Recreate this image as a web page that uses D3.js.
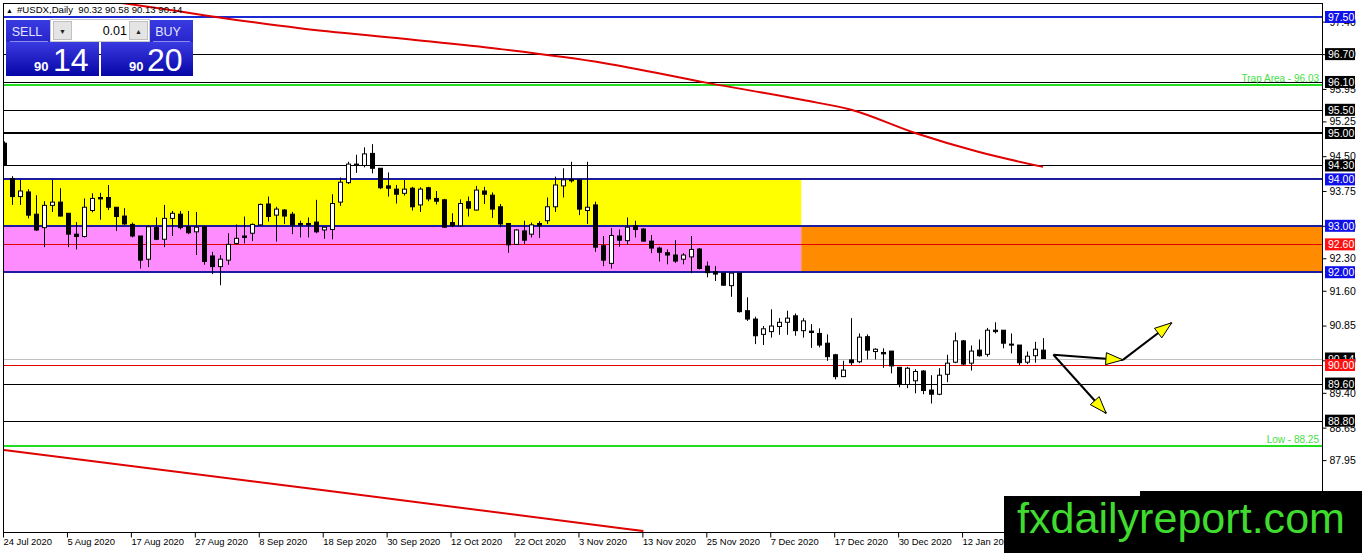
<!DOCTYPE html>
<html>
<head>
<meta charset="utf-8">
<script src="https://cdn.jsdelivr.net/npm/d3@7"></script>
<style>
body { margin: 0; background: #fff; }
svg { display: block; font-family: "Liberation Sans", Arial, sans-serif; }
</style>
</head>
<body>
<div id="chart"></div>
<script>
// ---- data ----
const symbolTitle = '#USDX,Daily  90.32 90.58 90.13 90.14';
const sellQuote = ['90', '14'];
const buyQuote = ['90', '20'];
const lotSize = '0.01';

// date label every 8 bars, first bar = 24 Jul 2020
const dateLabels = ['24 Jul 2020','5 Aug 2020','17 Aug 2020','27 Aug 2020','8 Sep 2020','18 Sep 2020',
    '30 Sep 2020','12 Oct 2020','22 Oct 2020','3 Nov 2020','13 Nov 2020','25 Nov 2020','7 Dec 2020',
    '17 Dec 2020','30 Dec 2020','12 Jan 2021'];

const opens = [94.78,94.02,93.63,93.73,93.25,92.96,93.44,93.51,93.27,92.82,
    92.77,93.33,93.61,93.61,93.40,93.21,93.03,92.78,92.28,92.96,
    92.71,93.16,93.25,92.98,92.87,92.98,92.35,92.12,92.26,92.62,
    92.78,92.84,93.02,93.47,93.23,93.34,93.25,93.05,93.05,93.08,
    92.91,92.92,93.51,93.93,94.33,94.30,94.56,94.24,93.86,93.79,
    93.70,93.81,93.45,93.82,93.59,93.56,93.07,93.00,93.52,93.34,
    93.75,93.66,93.41,93.05,92.60,92.89,92.82,93.05,93.11,93.41,
    93.86,94.00,93.99,93.33,93.45,92.57,92.19,92.78,92.68,93.00,
    92.93,92.67,92.52,92.42,92.37,92.28,92.33,92.50,92.13,92.01,
    91.98,91.71,91.98,91.17,90.99,90.66,90.72,90.83,90.92,91.06,
    90.74,90.73,90.68,90.47,90.22,89.75,90.11,90.07,90.61,90.29,
    90.27,90.30,89.95,89.58,89.66,89.87,89.46,89.37,89.80,90.06,
    90.52,90.04,90.32,90.23,90.75,90.75,90.45,90.43,90.06,90.20,
    90.32];
const highs = [94.82,94.07,94.00,93.79,93.66,93.53,94.00,93.81,93.27,93.08,
    93.59,93.70,93.71,93.88,93.40,93.38,93.07,92.78,93.00,93.18,
    93.45,93.32,93.32,93.32,93.30,93.00,92.44,92.37,92.84,93.03,
    93.20,93.05,93.48,93.63,93.41,93.36,93.30,93.11,93.18,93.56,
    92.98,93.68,94.04,94.38,94.53,94.69,94.76,94.24,94.15,93.88,
    93.99,93.84,93.83,93.84,93.75,93.58,93.27,93.57,93.63,93.86,
    93.84,93.72,93.47,93.05,92.93,93.11,93.07,93.10,93.61,94.06,
    94.24,94.38,94.00,94.38,93.52,92.78,92.95,92.92,93.18,93.11,
    92.95,92.80,92.55,92.49,92.69,92.41,92.78,92.52,92.23,92.13,
    91.98,91.98,91.98,91.46,91.04,90.84,91.20,91.01,91.17,91.11,
    91.01,90.88,90.79,90.66,90.24,90.09,91.01,90.68,90.66,90.36,
    90.36,90.30,89.95,89.96,89.91,89.89,89.78,89.93,90.22,90.70,
    90.54,90.42,90.55,90.80,90.92,90.75,90.68,90.43,90.29,90.50,
    90.58];
const lows = [94.30,93.45,93.45,93.16,92.89,92.54,93.30,93.20,92.54,92.49,
    92.75,93.29,93.13,93.34,92.89,93.02,92.75,92.08,92.11,92.69,
    92.54,92.78,92.92,92.82,92.37,92.16,91.96,91.72,92.16,92.59,
    92.62,92.67,93.00,93.09,92.66,93.04,92.82,92.75,92.75,92.84,
    92.72,92.71,93.43,93.90,94.14,94.26,94.13,93.79,93.63,93.48,
    93.65,93.33,93.30,93.53,93.46,92.96,92.97,92.98,93.20,93.33,
    93.47,93.17,92.97,92.42,92.59,92.61,92.75,92.74,93.04,93.30,
    93.61,93.93,93.23,93.04,92.44,92.13,92.08,92.55,92.59,92.75,
    92.66,92.41,92.23,92.17,92.20,92.17,91.98,92.06,91.89,91.81,
    91.71,91.47,91.13,90.95,90.45,90.43,90.59,90.65,90.65,90.63,
    90.59,90.37,90.38,90.09,89.69,89.74,90.00,90.04,90.12,90.12,
    89.94,89.82,89.52,89.50,89.39,89.37,89.17,89.35,89.63,90.04,
    90.00,89.88,90.18,90.18,90.68,90.36,90.25,90.00,90.02,90.05,
    90.13];
const closes = [94.31,93.63,93.75,93.23,92.91,93.44,93.51,93.21,92.82,92.77,
    93.40,93.59,93.58,93.40,93.20,93.04,92.78,92.26,92.98,92.71,
    93.16,93.27,92.96,92.85,92.97,92.23,92.12,92.28,92.60,92.73,
    92.75,93.03,93.46,93.20,93.36,93.21,93.02,93.02,93.02,92.87,
    92.97,93.48,93.94,94.33,94.30,94.55,94.24,93.82,93.81,93.68,
    93.79,93.41,93.79,93.58,93.53,92.97,93.00,93.48,93.38,93.77,
    93.68,93.36,93.04,92.59,92.91,92.69,93.02,93.00,93.41,93.88,
    93.99,93.97,93.36,93.40,92.54,92.26,92.79,92.69,92.97,92.92,
    92.67,92.52,92.43,92.37,92.24,92.37,92.49,92.08,91.99,91.96,
    91.72,91.98,91.15,90.99,90.63,90.78,90.84,90.92,91.01,90.74,
    90.95,90.70,90.43,90.18,89.75,89.89,90.05,90.60,90.32,90.34,
    90.24,89.98,89.58,89.93,89.86,89.45,89.37,89.78,90.04,90.52,
    90.02,90.30,90.20,90.75,90.72,90.47,90.43,90.05,90.19,90.34,
    90.14];

// moving averages (read at a few bars)
const maSlowBars = [14, 20, 25, 37, 50, 62, 75, 88, 100, 106, 114, 122, 130];
const maSlowVals = [97.82, 97.67, 97.54, 97.26, 97.03, 96.81, 96.51, 96.08, 95.71, 95.50, 95.00, 94.59, 94.27];
const maLowBars = [0, 40, 80];
const maLowVals = [88.17, 87.30, 86.42];

// horizontal levels
const blueLevels = [97.50, 94.00, 93.00, 92.00];
const blackLevels = [96.70, 96.10, 95.50, 94.30, 89.60, 88.80];
const heavyLevels = [95.00];
const redLevels = [92.60, 90.00];
const currentPrice = 90.14;
const greenLevels = [96.03, 88.25];
const greenTexts = ['Trap Area - 96.03', 'Low - 88.25'];
const axisTicks = [97.40, 96.70, 95.95, 95.25, 94.50, 93.75, 93.00, 92.30, 91.60, 90.85, 90.10, 89.40, 88.65, 87.95];

// zones: [top, bottom] prices, split at bar
const supplyZone = [94.00, 93.00];
const demandZone = [93.00, 92.00];
const zoneSplitBar = 99.75;

// scenario arrows [bar, price] -> [bar, price]
const arrows = [
    [[131.3, 90.22], [140.0, 90.11]],
    [[140.0, 90.11], [146.1, 90.91]],
    [[131.3, 90.22], [137.9, 88.96]]
];

// ---- layout ----
const W = 1362, H = 553;
const plot = {left: 3, top: 3, right: 1322, bottom: 532};

const svg = d3.select('#chart').append('svg')
    .attr('width', W).attr('height', H);

const x = d3.scaleLinear().domain([0, closes.length - 1]).range([4, 1043]);
const y = d3.scaleLinear().domain([88.25, 97.5]).range([446.2, 17]);

svg.append('defs').append('clipPath').attr('id', 'plotClip')
    .append('rect')
    .attr('x', plot.left).attr('y', plot.top)
    .attr('width', plot.right - plot.left).attr('height', plot.bottom - plot.top);

const g = svg.append('g').attr('clip-path', 'url(#plotClip)');

// zones
g.append('rect').attr('x', plot.left).attr('y', y(supplyZone[0]))
    .attr('width', x(zoneSplitBar) - plot.left).attr('height', y(supplyZone[1]) - y(supplyZone[0]))
    .attr('fill', '#ffff00');
g.append('rect').attr('x', plot.left).attr('y', y(demandZone[0]))
    .attr('width', x(zoneSplitBar) - plot.left).attr('height', y(demandZone[1]) - y(demandZone[0]))
    .attr('fill', '#ff8cff');
g.append('rect').attr('x', x(zoneSplitBar)).attr('y', y(demandZone[0]))
    .attr('width', plot.right - x(zoneSplitBar)).attr('height', y(demandZone[1]) - y(demandZone[0]))
    .attr('fill', '#ff8c00');

function hline(price, color, width) {
    let yy = Math.round(y(price)) + (width % 2 ? 0.5 : 0);
    g.append('line')
        .attr('x1', plot.left).attr('x2', plot.right)
        .attr('y1', yy).attr('y2', yy)
        .attr('stroke', color).attr('stroke-width', width);
}
hline(currentPrice, '#c0c0c0', 1);
blackLevels.forEach(p => hline(p, '#000', 1));
heavyLevels.forEach(p => hline(p, '#000', 2));
redLevels.forEach(p => hline(p, '#e00000', 1));
greenLevels.forEach(p => hline(p, '#22dd22', 2));
blueLevels.forEach(p => hline(p, p === 97.5 ? '#1a2ad0' : '#1c1ca0', 2));

// green level captions
greenLevels.forEach((p, i) => {
    g.append('text')
        .attr('x', plot.right - 3).attr('y', y(p) - 3)
        .attr('text-anchor', 'end')
        .attr('font-size', 10)
        .attr('fill', '#44e044')
        .text(greenTexts[i]);
});

// moving averages
const maLine = d3.line().curve(d3.curveMonotoneX).x(d => x(d[0])).y(d => y(d[1]));
g.append('path').datum(maSlowBars.map((b, i) => [b, maSlowVals[i]]))
    .attr('d', maLine).attr('fill', 'none')
    .attr('stroke', '#e00000').attr('stroke-width', 2);
g.append('path').datum(maLowBars.map((b, i) => [b, maLowVals[i]]))
    .attr('d', maLine).attr('fill', 'none')
    .attr('stroke', '#e00000').attr('stroke-width', 2);

// candles
const bars = closes.map((c, i) => ({i: i, o: opens[i], h: highs[i], l: lows[i], c: c}));
const candle = g.append('g').selectAll('g').data(bars).enter().append('g');
candle.append('line')
    .attr('x1', d => Math.round(x(d.i)) + 0.5).attr('x2', d => Math.round(x(d.i)) + 0.5)
    .attr('y1', d => y(d.h)).attr('y2', d => y(d.l))
    .attr('stroke', '#000').attr('stroke-width', 1);
candle.append('rect')
    .attr('x', d => Math.round(x(d.i)) - 1.5)
    .attr('y', d => y(Math.max(d.o, d.c)))
    .attr('width', 4)
    .attr('height', d => Math.max(1, Math.abs(y(d.o) - y(d.c))))
    .attr('fill', d => d.c >= d.o ? '#fff' : '#000')
    .attr('stroke', '#000').attr('stroke-width', 1);

// scenario arrows
arrows.forEach(a => {
    let x1 = x(a[0][0]), y1 = y(a[0][1]), x2 = x(a[1][0]), y2 = y(a[1][1]);
    g.append('line').attr('x1', x1).attr('y1', y1).attr('x2', x2).attr('y2', y2)
        .attr('stroke', '#000').attr('stroke-width', 2);
    let ang = Math.atan2(y2 - y1, x2 - x1), L = 17, Wd = 6;
    let bx = x2 - L * Math.cos(ang), by = y2 - L * Math.sin(ang);
    let px = -Math.sin(ang) * Wd, py = Math.cos(ang) * Wd;
    g.append('polygon')
        .attr('points', [[x2, y2], [bx + px, by + py], [bx - px, by - py]].map(p => p.join(',')).join(' '))
        .attr('fill', '#ffff00').attr('stroke', '#000').attr('stroke-width', 1);
});

// frame
svg.append('line').attr('x1', plot.left + 0.5).attr('x2', plot.left + 0.5)
    .attr('y1', plot.top).attr('y2', plot.bottom).attr('stroke', '#000');
svg.append('line').attr('x1', plot.left).attr('x2', plot.right)
    .attr('y1', plot.top + 0.5).attr('y2', plot.top + 0.5).attr('stroke', '#000');
svg.append('line').attr('x1', plot.right + 0.5).attr('x2', plot.right + 0.5)
    .attr('y1', plot.top).attr('y2', plot.bottom).attr('stroke', '#000');
svg.append('line').attr('x1', plot.left).attr('x2', plot.right)
    .attr('y1', plot.bottom + 0.5).attr('y2', plot.bottom + 0.5).attr('stroke', '#000');

// price axis
const yAxis = svg.append('g')
    .attr('transform', `translate(${plot.right + 0.5},0)`)
    .call(d3.axisRight(y).tickValues(axisTicks).tickSize(4).tickPadding(3).tickFormat(d3.format('.2f')));
yAxis.select('.domain').remove();
yAxis.selectAll('text').attr('font-size', 10.5).attr('font-family', '"Liberation Sans", Arial, sans-serif').attr('fill', '#000');

// level price tags
function tag(price, bg) {
    let yy = y(price);
    svg.append('rect').attr('x', plot.right + 3).attr('y', yy - 6)
        .attr('width', 30).attr('height', 12).attr('fill', bg);
    svg.append('text').attr('x', plot.right + 6).attr('y', yy + 4)
        .attr('font-size', 10.5).attr('fill', '#fff').text(price.toFixed(2));
}
tag(currentPrice, '#000');
blackLevels.concat(heavyLevels).forEach(p => tag(p, '#000'));
blueLevels.forEach(p => tag(p, '#1010e8'));
redLevels.forEach(p => tag(p, '#ff1010'));

// date axis
const tickBars = dateLabels.map((d, i) => i * 8);
const xAxis = svg.append('g')
    .attr('transform', `translate(-1,${plot.bottom + 0.5})`)
    .call(d3.axisBottom(x).tickValues(tickBars).tickSize(5).tickFormat((d, i) => dateLabels[i]));
xAxis.select('.domain').remove();
xAxis.selectAll('text')
    .attr('text-anchor', 'start').attr('dx', 0).attr('y', 6)
    .attr('font-size', 9.4).attr('font-family', '"Liberation Sans", Arial, sans-serif').attr('fill', '#000');

// title
svg.append('text').attr('x', 6).attr('y', 13).attr('font-size', 7).text('\u25B2');
svg.append('text').attr('x', 17).attr('y', 13).attr('font-size', 9.6)
    .text(symbolTitle.replace('  ', '\u00a0\u00a0'));

// one-click trading panel
const defs = svg.select('defs');
const grad = defs.append('linearGradient').attr('id', 'blueGrad').attr('x1', 0).attr('y1', 0).attr('x2', 0).attr('y2', 1);
grad.append('stop').attr('offset', '0%').attr('stop-color', '#3a3ae2');
grad.append('stop').attr('offset', '100%').attr('stop-color', '#0606a6');
const panel = svg.append('g');
panel.append('rect').attr('x', 6).attr('y', 20).attr('width', 44).attr('height', 56).attr('fill', 'url(#blueGrad)');
panel.append('rect').attr('x', 6).attr('y', 42).attr('width', 93).attr('height', 34).attr('fill', 'url(#blueGrad)');
panel.append('rect').attr('x', 150).attr('y', 20).attr('width', 43).attr('height', 56).attr('fill', 'url(#blueGrad)');
panel.append('rect').attr('x', 101).attr('y', 42).attr('width', 92).attr('height', 34).attr('fill', 'url(#blueGrad)');
panel.append('line').attr('x1', 10).attr('x2', 48).attr('y1', 41.5).attr('y2', 41.5).attr('stroke', '#8c8cf0');
panel.append('line').attr('x1', 153).attr('x2', 190).attr('y1', 41.5).attr('y2', 41.5).attr('stroke', '#8c8cf0');
// lot spinner
panel.append('rect').attr('x', 50.5).attr('y', 19.5).attr('width', 99).attr('height', 22).attr('fill', '#fff').attr('stroke', '#c8c8c8');
panel.append('rect').attr('x', 53.5).attr('y', 21.5).attr('width', 18).attr('height', 18).attr('fill', '#e4e4e4').attr('stroke', '#c0c0c0');
panel.append('rect').attr('x', 129.5).attr('y', 21.5).attr('width', 18).attr('height', 18).attr('fill', '#e4e4e4').attr('stroke', '#c0c0c0');
panel.append('text').attr('x', 62.5).attr('y', 34).attr('text-anchor', 'middle').attr('font-size', 7).attr('fill', '#222').text('\u25BC');
panel.append('text').attr('x', 138.5).attr('y', 34).attr('text-anchor', 'middle').attr('font-size', 7).attr('fill', '#222').text('\u25B2');
panel.append('text').attr('x', 127).attr('y', 35).attr('text-anchor', 'end').attr('font-size', 12.5).attr('fill', '#000').text(lotSize);
panel.append('text').attr('x', 27).attr('y', 35.5).attr('text-anchor', 'middle').attr('font-size', 12.5).attr('fill', '#e4e4ff').text('SELL');
panel.append('text').attr('x', 168).attr('y', 35.5).attr('text-anchor', 'middle').attr('font-size', 12.5).attr('fill', '#e4e4ff').text('BUY');
panel.append('text').attr('x', 34).attr('y', 71).attr('font-size', 13).attr('font-weight', 'bold').attr('fill', '#fff').text(sellQuote[0]);
panel.append('text').attr('x', 53).attr('y', 71).attr('font-size', 32).attr('fill', '#fff').text(sellQuote[1]);
panel.append('text').attr('x', 129).attr('y', 71).attr('font-size', 13).attr('font-weight', 'bold').attr('fill', '#fff').text(buyQuote[0]);
panel.append('text').attr('x', 147).attr('y', 71).attr('font-size', 32).attr('fill', '#fff').text(buyQuote[1]);

// watermark
svg.append('rect').attr('x', 1004).attr('y', 496).attr('width', W - 1004).attr('height', H - 496).attr('fill', '#000');
svg.append('rect').attr('x', 1140).attr('y', 491).attr('width', W - 1140).attr('height', H - 491).attr('fill', '#000');
svg.append('text').attr('x', 1017).attr('y', 533)
    .attr('font-size', 42).attr('fill', '#3fdc2f')
    .attr('textLength', 328).attr('lengthAdjust', 'spacingAndGlyphs')
    .text('fxdailyreport.com');
</script>
</body>
</html>
